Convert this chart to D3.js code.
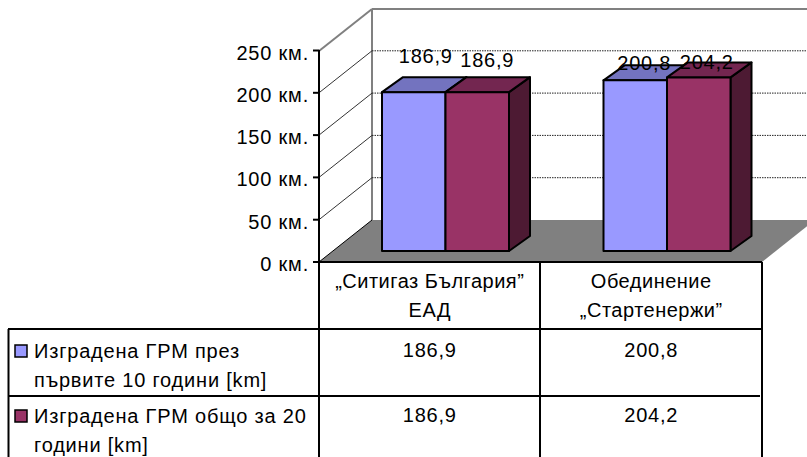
<!DOCTYPE html>
<html><head><meta charset="utf-8">
<script src="https://cdn.jsdelivr.net/npm/d3@7"></script>
<style>html,body{margin:0;padding:0;background:#fff;overflow:hidden}svg{display:block}text{font-family:"Liberation Sans",Arial,sans-serif;font-size:20px;letter-spacing:0.8px;fill:#000}</style>
</head><body><svg id="c" width="807" height="457"></svg>
<script>
const categories = [["„Ситигаз България”","ЕАД"],["Обединение","„Стартенержи”"]];
const seriesNames = [["Изградена ГРМ през","първите 10 години [km]"],["Изградена ГРМ общо за 20","години [km]"]];
const series1 = [186.9,200.8];
const series2 = [186.9,204.2];
const tickValues = [0,50,100,150,200,250];
const faceColors = ["#9999FF","#993366"];
const topColors = ["#7373BF","#732650"];
const sideColors = ["#4D1A33","#4D1A33"];

const svg = d3.select("#c");
const fmt = v => String(v.toFixed(1)).replace(".",",");
const depth = {x:53,y:-42}, bd = {x:21,y:-15};
const yFront = d3.scaleLinear().domain([0,250]).range([262,50.5]);
const yBar = d3.scaleLinear().domain([0,250]).range([251,38.5]);
const xCat = d3.scaleBand().domain([0,1]).range([319,762]);
const xSer = d3.scaleBand().domain([0,1]).range([0,127]);
const catLeft = i => xCat(i)+63;
const line = (a,b,c,w,dash)=>svg.append("path").attr("d",`M${a[0]},${a[1]}L${b[0]},${b[1]}`).attr("stroke",c).attr("stroke-width",w).attr("fill","none").attr("stroke-dasharray",dash||null);

// floor
svg.append("path").attr("d",d3.line()([[319,262],[372,220],[815,220],[762,262]])).attr("fill","#808080").attr("stroke","none");
// walls
line([372,9],[807,9],"#808080",2);
line([372,9],[372,220],"#808080",2);
line([319,51],[372,9],"#808080",2);
tickValues.forEach(v=>{
  const yf=yFront(v), yb=yf+depth.y;
  if(v>0&&v<250){ line([372,yb],[807,yb],"#222",1,"1.5 1"); }
  if(v<250){ line([319,yf],[372,yb],v==0?"#000":"#333",1); }
  line([313,yf],[319,yf],"#000",2);
  svg.append("text").attr("x",309).attr("y",yf+9).attr("text-anchor","end").text(v+" км.");
});
line([319,50],[319,457],"#000",2);

// bars
[series1,series2].forEach((vals,s)=>{
  vals.forEach((v,i)=>{
    const x0=catLeft(i)+xSer(s), x1=x0+xSer.bandwidth(), yt=yBar(v), yb=yBar(0);
    const g=svg.append("g").attr("stroke","#000").attr("stroke-width",2).attr("stroke-linejoin","round");
    g.append("path").attr("d",d3.line()([[x1,yb],[x1+bd.x,yb+bd.y],[x1+bd.x,yt+bd.y],[x1,yt]])+"Z").attr("fill",sideColors[s]);
    g.append("path").attr("d",d3.line()([[x0,yt],[x0+bd.x,yt+bd.y],[x1+bd.x,yt+bd.y],[x1,yt]])+"Z").attr("fill",topColors[s]);
    g.append("rect").attr("x",x0).attr("y",yt).attr("width",x1-x0).attr("height",yb-yt).attr("fill",faceColors[s]);
  });
});
// data labels
const labelLift = [[29,10],[25,8]];
const labelShift = [[12,9],[10,8]];
[series1,series2].forEach((vals,s)=>vals.forEach((v,i)=>{
  const xc=catLeft(i)+xSer(s)+xSer.bandwidth()/2+labelShift[s][i];
  svg.append("text").attr("x",xc).attr("y",yBar(v)-labelLift[s][i]).attr("text-anchor","middle").text(fmt(v));
}));

// data table
line([319,262],[762,262],"#000",2);
line([8,329],[762,329],"#000",2);
line([8,396],[760,396],"#000",2);
line([8.5,329],[8.5,457],"#000",2);
line([540,262],[540,457],"#000",2);
line([762,262],[762,457],"#000",2);
categories.forEach((lines,i)=>{
  lines.forEach((t,j)=>svg.append("text").attr("x",xCat(i)+xCat.bandwidth()/2).attr("y",288+j*29).attr("text-anchor","middle").style("letter-spacing","0.5px").text(t));
});
[series1,series2].forEach((vals,s)=>{
  const y0=357+s*65;
  vals.forEach((v,i)=>svg.append("text").attr("x",xCat(i)+xCat.bandwidth()/2).attr("y",y0).attr("text-anchor","middle").text(fmt(v)));
  svg.append("rect").attr("x",15).attr("y",345+s*65).attr("width",12).attr("height",12).attr("fill",faceColors[s]).attr("stroke","#000").attr("stroke-width",1.5);
  seriesNames[s].forEach((t,j)=>svg.append("text").attr("x",34).attr("y",358+s*65+j*29).text(t));
});
</script></body></html>
